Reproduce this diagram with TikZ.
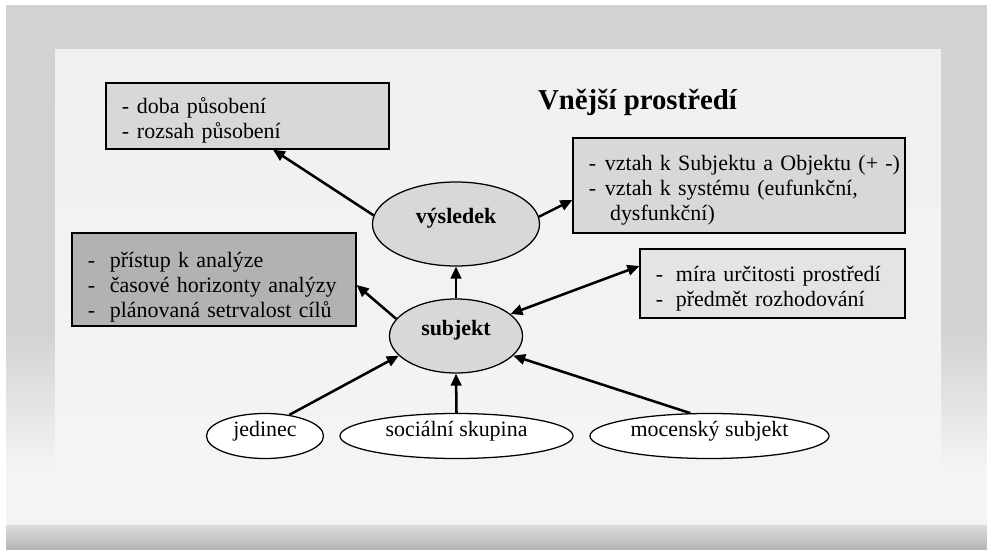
\documentclass[tikz,border=0pt]{standalone}
\usepackage{fontspec}
\setmainfont{Liberation Serif}
\usepackage{xcolor}
\usetikzlibrary{shapes.geometric,arrows.meta,calc}
\definecolor{ramec}{HTML}{D2D2D2}
\definecolor{plocha}{HTML}{F0F0F0}
\definecolor{dolni}{HTML}{F4F4F4}
\definecolor{svetla}{HTML}{D8D8D8}
\definecolor{bleda}{HTML}{E4E4E4}
\definecolor{tmava}{HTML}{B2B2B2}
\newcommand{\txt}{\fontsize{15.6}{17.8}\selectfont}
\newcommand{\pol}[2][11.4pt]{\mbox{\makebox[#1][l]{-}#2}}
\newcommand{\sv}[1]{\rule{0pt}{#1}}

\begin{document}
\begin{tikzpicture}[x=0.025cm,y=-0.025cm,
    every node/.style={font=\txt},
    box/.style={draw=black, line width=0.9pt, inner xsep=0.4cm, inner ysep=0pt, align=left},
    oval/.style={ellipse, draw=black, line width=0.9pt, inner sep=0pt, text height=11pt, text depth=11pt},
    sipka/.style={line width=1.8pt, -{Triangle[length=8.5pt,width=7.5pt]}}]
    % pozadi
    \useasboundingbox (0,0) rectangle (987,550);
    \fill[white] (0,0) rectangle (987,550);
    \fill[ramec] (6,5) rectangle (987,330);
    \shade[top color=ramec, bottom color=dolni] (6,330) rectangle (987,470);
    \fill[dolni] (6,470) rectangle (987,525);
    \shade[top color=plocha, bottom color=dolni] (55,50) rectangle (941,470);
    \shade[top color={rgb,255:red,220;green,220;blue,220}, bottom color={rgb,255:red,180;green,180;blue,180}] (6,525) rectangle (987,550);

    \node[font=\bfseries\fontsize{20.5}{24}\selectfont] (titul) at (637.5,102) {Vnější prostředí};

    \node[box, fill=svetla, text width=6.275cm, minimum height=1.65cm] (doba) at (247.5,116)
      {\sv{18pt}\pol[10.7pt]{doba působení}\\\pol[10.7pt]{rozsah působení}};
    \node[box, fill=svetla, text width=7.5cm, minimum height=2.375cm] (vztah) at (739,185.5)
      {\sv{18pt}\pol{vztah k Subjektu a Objektu (+ -)}\\\pol{vztah k systému (eufunkční,}\\\mbox{\hspace*{15pt}dysfunkční)}};
    \node[box, fill=bleda, text width=5.825cm, minimum height=1.725cm] (mira) at (772.5,283.5)
      {\sv{18pt}\pol[14.2pt]{míra určitosti prostředí}\\\pol[14.2pt]{předmět rozhodování}};
    \node[box, fill=tmava, text width=6.3cm, minimum height=2.325cm] (pristup) at (214,279.5)
      {\sv{22pt}\pol[15.6pt]{přístup k analýze}\\\pol[15.6pt]{časové horizonty analýzy}\\\pol[15.6pt]{plánovaná setrvalost cílů}};

    \node[oval, fill=svetla, minimum width=4.175cm, minimum height=2.1cm] (vysledek) at (456,224) {\textbf{výsledek}};
    \node[oval, fill=svetla, minimum width=3.325cm, minimum height=1.85cm] (subjekt) at (456,336) {\textbf{subjekt}};

    \node[oval, fill=white, minimum width=2.925cm, minimum height=1.125cm] (jedinec) at (265,436) {jedinec};
    \node[oval, fill=white, minimum width=5.825cm, minimum height=1.125cm] (skupina) at (456.5,436) {sociální skupina};
    \node[oval, fill=white, minimum width=5.975cm, minimum height=1.125cm] (moc) at (709.5,436) {mocenský subjekt};

    \path[sipka]
    (vysledek.174) edge ($(doba.south)+(25.5,0)$)
    (vysledek.5) edge ($(vztah.west)+(0,14.5)$)
    (subjekt.north) edge (vysledek.south)
    (subjekt.164) edge ($(pristup.east)+(0,5.5)$)
    (jedinec.41) edge (subjekt.199)
    (skupina.north) edge (subjekt.south)
    (moc.130) edge (subjekt.341);
    \path[sipka, {Triangle[length=8.5pt,width=7.5pt]}-{Triangle[length=8.5pt,width=7.5pt]}]
    (subjekt.22) edge ($(mira.west)+(0,-17.5)$);
  \end{tikzpicture}
\end{document}
